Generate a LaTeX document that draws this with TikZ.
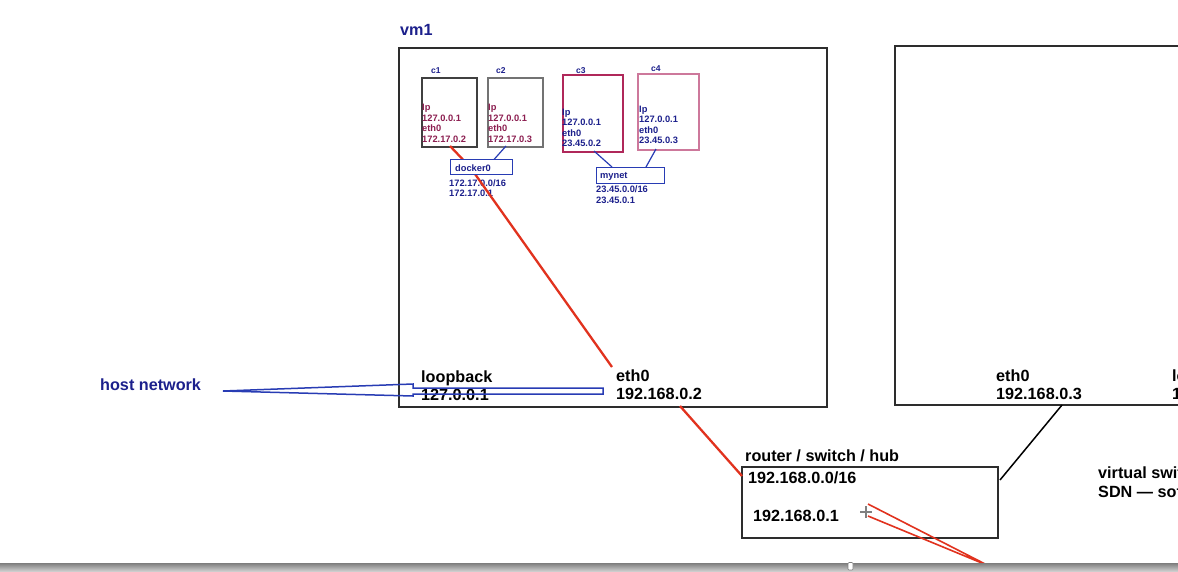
\documentclass[tikz,border=0pt]{standalone}
\usepackage{fontspec}
\setmainfont{Liberation Sans}
\definecolor{navy}{RGB}{28,32,140}
\definecolor{magtext}{RGB}{140,30,80}
\definecolor{cthree}{RGB}{176,40,90}
\definecolor{cfour}{RGB}{205,120,155}
\definecolor{boxblue}{RGB}{40,60,180}
\definecolor{redl}{RGB}{225,50,30}
\definecolor{boxgray}{RGB}{45,45,45}
\definecolor{barTop}{RGB}{125,125,125}
\definecolor{barBot}{RGB}{205,205,205}
\tikzset{
  big/.style={font=\bfseries\fontsize{16.2}{18}\selectfont, inner sep=0pt, anchor=base west},
  small/.style={font=\bfseries\fontsize{9.3}{10.5}\selectfont, inner sep=0pt, anchor=base west},
  tinylbl/.style={font=\bfseries\fontsize{8.5}{9}\selectfont, inner sep=0pt, anchor=base west, text=navy},
  bigbox/.style={draw=boxgray, line width=2pt, anchor=north west, inner sep=0pt},
  cbox/.style={anchor=north west, inner sep=0pt, line width=1.6pt},
  netbox/.style={draw=boxblue, fill=white, line width=1.3pt, anchor=north west, inner sep=0pt},
  redline/.style={draw=redl, line width=2.3pt},
  blueline/.style={draw=boxblue, line width=1.2pt},
}
\begin{document}
\begin{tikzpicture}[x=1pt,y=-1pt]
\useasboundingbox (0,0) rectangle (1178,571);
\fill[white] (0,0) rectangle (1178,571);
\clip (0,0) rectangle (1178,571);

% big boxes
\node[bigbox, minimum width=428pt, minimum height=359pt] (vm1) at (398,47) {};
\node[bigbox, minimum width=320pt, minimum height=359pt] (vm2) at (894,45) {};
\node[big, text=navy] (vm1lbl) at (400,35) {vm1};

% containers
\node[cbox, draw=black!75, minimum width=55pt, minimum height=69pt] (c1) at (421,77) {};
\node[cbox, draw=black!55, minimum width=55pt, minimum height=69pt] (c2) at (487,77) {};
\node[cbox, draw=cthree, minimum width=60pt, minimum height=77pt] (c3) at (562,74) {};
\node[cbox, draw=cfour, minimum width=61pt, minimum height=76pt] (c4) at (637,73) {};
\node[tinylbl] (c1lbl) at (431,73) {c1};
\node[tinylbl] (c2lbl) at (496,73) {c2};
\node[tinylbl] (c3lbl) at (576,73) {c3};
\node[tinylbl] (c4lbl) at (651,71) {c4};

\foreach \t [count=\i from 0] in {Ip,127.0.0.1,eth0,172.17.0.2}
  \node[small, text=magtext] (c1t\i) at (422,110.5+10.5*\i) {\t};
\foreach \t [count=\i from 0] in {Ip,127.0.0.1,eth0,172.17.0.3}
  \node[small, text=magtext] (c2t\i) at (488,110.5+10.5*\i) {\t};
\foreach \t [count=\i from 0] in {Ip,127.0.0.1,eth0,23.45.0.2}
  \node[small, text=navy] (c3t\i) at (562,115+10.5*\i) {\t};
\foreach \t [count=\i from 0] in {Ip,127.0.0.1,eth0,23.45.0.3}
  \node[small, text=navy] (c4t\i) at (639,112+10.5*\i) {\t};

% network texts
\node[small, text=navy] (dk1) at (449,186) {172.17.0.0/16};
\node[small, text=navy] (dk2) at (449,196.5) {172.17.0.1};
\node[small, text=navy] (mn1) at (596,192) {23.45.0.0/16};
\node[small, text=navy] (mn2) at (596,203) {23.45.0.1};

% coordinates for connectors
\coordinate (c1b) at (450,146);
\coordinate (dkc) at (470,167);
\coordinate (eth0top) at (612,367);
\coordinate (c2b) at (506,146);
\coordinate (dkt) at (494,159.5);
\coordinate (c3b) at (594,151);
\coordinate (mnt1) at (612,167);
\coordinate (c4b) at (656,149);
\coordinate (mnt2) at (646,167);

% red docker line
\draw[redline] (c1b) -- (dkc) -- (eth0top);

% network boxes
\node[netbox, minimum width=62pt, minimum height=15pt] (docker0) at (450,159) {};
\node[small, text=navy] (docker0t) at (455,171) {docker0};
\node[netbox, minimum width=68pt, minimum height=16pt] (mynet) at (596,167) {};
\node[small, text=navy] (mynett) at (600,178.5) {mynet};

\draw[blueline] (c2b) -- (dkt);
\draw[blueline] (c3b) -- (mnt1);
\draw[blueline] (c4b) -- (mnt2);

% vm1 interfaces
\node[big] (lo1) at (421,382) {loopback};
\node[big] (lo2) at (421,400) {127.0.0.1};
\node[big] (eth0a) at (616,381) {eth0};
\node[big] (ip02) at (616,399) {192.168.0.2};

% vm2 interfaces
\node[big] (eth0b) at (996,381) {eth0};
\node[big] (ip03) at (996,399) {192.168.0.3};
\node[big] (lo3) at (1172,381) {loopback};
\node[big] (lo4) at (1172,399) {127.0.0.1};

% host network
\node[big, text=navy] (host) at (100,390) {host network};
\coordinate (hn) at (223,391);
\draw[draw=boxblue, line width=1.5pt, line join=miter]
  (hn) -- (413,384) -- (413,388) -- (603,388) -- (603,394) -- (413,394) -- (413,396) -- cycle;

% router
\node[bigbox, minimum width=256pt, minimum height=71pt] (router) at (741,466) {};
\node[big] (routerlbl) at (745,461) {router / switch / hub};
\node[big] (net16) at (748,483) {192.168.0.0/16};
\node[big] (ip01) at (753,521) {192.168.0.1};

\coordinate (vm1b) at (680,406);
\coordinate (rtl) at (742,476);
\draw[redline] (vm1b) -- (rtl);

\coordinate (vm2b) at (1062,405);
\coordinate (rtr) at (1000,480);
\draw[line width=1.5pt] (vm2b) -- (rtr);

% cross marker
\draw[gray, line width=1.1pt] (860,512) -- (872,512) (866,506) -- (866,518);

% double red lines
\coordinate (r1) at (868,504);
\coordinate (r2) at (868,516);
\coordinate (rend) at (989,566);
\draw[draw=redl, line width=1.6pt] (r1) -- (rend) -- (r2);

% virtual switch text
\node[big] (vs1) at (1098,478) {virtual switch};
\node[big] (vs2) at (1098,497) {SDN — software};

% bottom bar
\shade[top color=barTop, bottom color=barBot] (0,563) rectangle (1178,571);
\draw[fill=white, draw=gray, line width=0.6pt, rounded corners=1pt] (848,562.5) rectangle (853,570);
\end{tikzpicture}
\end{document}
